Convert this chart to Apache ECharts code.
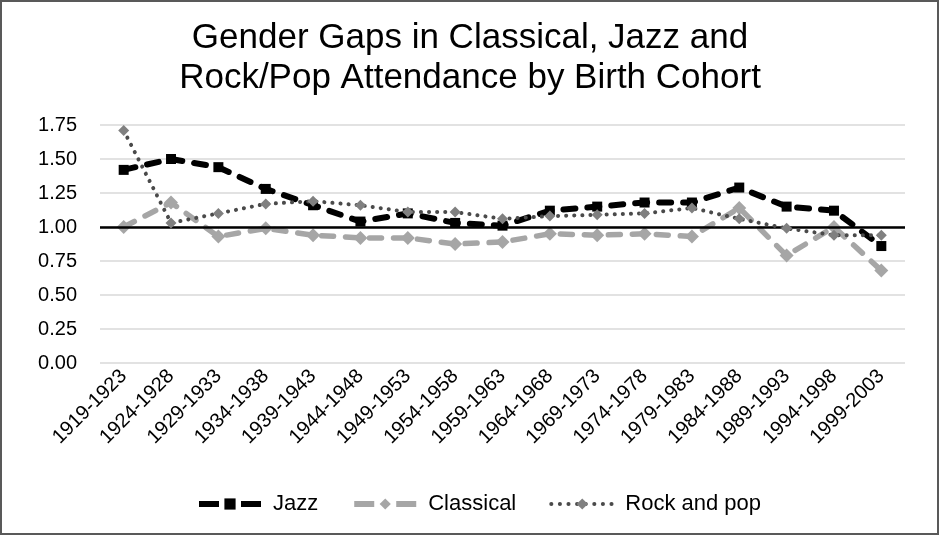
<!DOCTYPE html>
<html>
<head>
<meta charset="utf-8">
<script src="https://cdn.jsdelivr.net/npm/echarts@6/dist/echarts.min.js"></script>
<style>html,body{margin:0;padding:0;background:#fff}#c{width:940px;height:536px}</style>
</head>
<body>
<div id="c"></div>
<script>
const categories = ['1919-1923','1924-1928','1929-1933','1934-1938','1939-1943','1944-1948','1949-1953','1954-1958','1959-1963','1964-1968','1969-1973','1974-1978','1979-1983','1984-1988','1989-1993','1994-1998','1999-2003'];
const jazz = [1.42,1.50,1.44,1.28,1.16,1.04,1.10,1.03,1.01,1.12,1.15,1.18,1.18,1.29,1.15,1.12,0.86];
const classical = [1.00,1.18,0.93,0.99,0.94,0.92,0.92,0.875,0.89,0.95,0.94,0.95,0.93,1.14,0.79,1.00,0.68];
const rockPop = [1.71,1.03,1.10,1.17,1.19,1.16,1.11,1.11,1.06,1.08,1.09,1.10,1.14,1.06,0.99,0.94,0.94];
const yTicks = [0,0.25,0.5,0.75,1,1.25,1.5,1.75];

const chart = echarts.init(document.getElementById('c'));
chart.setOption({
  animation: false,
  backgroundColor: '#fff',
  graphic: [{type:'rect', shape:{x:1,y:1,width:937,height:533}, style:{fill:'none', stroke:'#595959', lineWidth:2}, silent:true}],
  title: {
    text: 'Gender Gaps in Classical, Jazz and\nRock/Pop Attendance by Birth Cohort',
    left: 'center', top: 13,
    textStyle: {fontFamily:'Liberation Sans', fontSize:35, fontWeight:'normal', color:'#000', lineHeight:40}
  },
  legend: {
    bottom: 16, left: 191, itemGap: 33, itemWidth: 62, itemHeight: 14,
    textStyle: {fontFamily:'Liberation Sans', fontSize:22, color:'#000', padding:[0,0,0,7]},
    data: [
      {name:'Jazz', lineStyle:{color:'#000', width:6, type:[20,22], cap:'butt'}},
      {name:'Classical', lineStyle:{color:'#a6a6a6', width:6, type:[20,22], cap:'butt'}},
      {name:'Rock and pop', lineStyle:{color:'#4a4a4a', width:4, type:[0.1,8.5], cap:'round'}}
    ]
  },
  grid: {left:100, right:35, top:125, bottom:173},
  xAxis: {
    type: 'category', data: categories, boundaryGap: true,
    axisLine: {show:false}, axisTick: {show:false},
    axisLabel: {rotate:45, interval:0, fontFamily:'Liberation Sans', fontSize:20, color:'#000', margin:10}
  },
  yAxis: {
    type: 'value', min: 0, max: 1.75, interval: 0.25,
    axisLine: {show:false}, axisTick: {show:false},
    axisLabel: {formatter: v => v.toFixed(2), fontFamily:'Liberation Sans', fontSize:20, color:'#000', margin:23},
    splitLine: {lineStyle: {color:'#d9d9d9', width:1.5}}
  },
  series: [
    {
      name: 'Jazz', type: 'line', data: jazz, z: 4,
      symbol: 'rect', symbolSize: 10,
      lineStyle: {color:'#000', width:6, type:[12,12], cap:'round'},
      itemStyle: {color:'#000'},
      markLine: {silent:true, symbol:'none', label:{show:false},
        lineStyle:{color:'#000', width:2.5, type:'solid'},
        data:[{yAxis:1}]}
    },
    {
      name: 'Classical', type: 'line', data: classical, z: 3,
      symbol: 'diamond', symbolSize: 14,
      lineStyle: {color:'#a6a6a6', width:5.5, type:[12,12], cap:'round'},
      itemStyle: {color:'#a6a6a6'}
    },
    {
      name: 'Rock and pop', type: 'line', data: rockPop, z: 5,
      symbol: 'diamond', symbolSize: 11,
      lineStyle: {color:'#4a4a4a', width:4, type:[0.1,8], cap:'round'},
      itemStyle: {color:'#808080'}
    }
  ]
});
</script>
</body>
</html>
